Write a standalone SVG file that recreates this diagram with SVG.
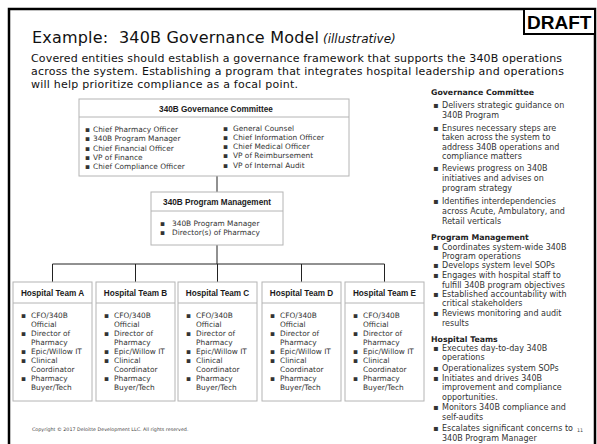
<svg xmlns="http://www.w3.org/2000/svg" width="597" height="444" viewBox="0 0 597 444">
  <style>
    .frame{fill:none;stroke:#000;stroke-width:2.5}
    .box{fill:#fff;stroke:#b4b4b4;stroke-width:1}
    .sep{stroke:#b4b4b4;stroke-width:1}
    .conn{stroke:#222;stroke-width:1;fill:none}
    .title{font-family:"DejaVu Sans",Verdana,sans-serif;font-size:16px;fill:#111}
    .ital{font-family:"DejaVu Sans",Verdana,sans-serif;font-size:12px;font-style:italic;fill:#111}
    .body{font-family:"DejaVu Sans",Verdana,sans-serif;font-size:11px;fill:#111}
    .hd{font-family:"Liberation Sans",Arial,sans-serif;font-weight:bold;font-size:8.2px;fill:#1a1a1a;text-anchor:middle}
    .li{font-family:"DejaVu Sans",Verdana,sans-serif;font-size:7.4px;fill:#333}
    .side{font-family:"DejaVu Sans",Verdana,sans-serif;font-size:8px;fill:#333}
    .sideh{font-family:"DejaVu Sans",Verdana,sans-serif;font-size:7.8px;font-weight:bold;fill:#222}
    .draft{font-family:"Liberation Sans",Arial,sans-serif;font-size:19px;font-weight:bold;fill:#000}
    .copy{font-family:"DejaVu Sans",Verdana,sans-serif;font-size:4.8px;fill:#444}
  </style>

  <!-- slide frame and draft stamp -->
  <path class="frame" d="M9,444 V9 H595 V444"/>
  <rect x="524" y="9" width="71" height="25" fill="#fff" stroke="#000" stroke-width="2"/>
  <text class="draft" x="527" y="29">DRAFT</text>

  <!-- heading and intro -->
  <text class="title" x="32" y="43" textLength="287" lengthAdjust="spacing" xml:space="preserve">Example:  340B Governance Model</text>
  <text class="ital" x="323" y="43">(illustrative)</text>
  <text class="body" x="31" y="62" textLength="531" lengthAdjust="spacing">Covered entities should establish a governance framework that supports the 340B operations</text>
  <text class="body" x="31" y="75" textLength="533" lengthAdjust="spacing">across the system. Establishing a program that integrates hospital leadership and operations</text>
  <text class="body" x="31" y="88" textLength="267" lengthAdjust="spacing">will help prioritize compliance as a focal point.</text>

  <!-- connectors -->
  <g id="connectors" class="conn">
    <line x1="217" y1="176" x2="217" y2="192"/>
    <line x1="217" y1="245" x2="217" y2="264"/>
    <line x1="52.5" y1="264" x2="384.5" y2="264"/>
    <line x1="52.5" y1="264" x2="52.5" y2="282"/>
    <line x1="135.5" y1="264" x2="135.5" y2="282"/>
    <line x1="217.5" y1="264" x2="217.5" y2="282"/>
    <line x1="301.5" y1="264" x2="301.5" y2="282"/>
    <line x1="384.5" y1="264" x2="384.5" y2="282"/>
  </g>

  <!-- governance committee -->
  <g id="governance-committee">
    <rect class="box" x="79" y="99" width="270" height="77"/>
    <line class="sep" x1="79" y1="117" x2="349" y2="117"/>
    <text class="hd" x="216" y="111.5">340B Governance Committee</text>
    <g class="li">
      <text x="85" y="132">▪</text><text x="93" y="132">Chief Pharmacy Officer</text>
      <text x="85" y="141.3">▪</text><text x="93" y="141.3">340B Program Manager</text>
      <text x="85" y="150.6">▪</text><text x="93" y="150.6">Chief Financial Officer</text>
      <text x="85" y="159.9">▪</text><text x="93" y="159.9">VP of Finance</text>
      <text x="85" y="169.2">▪</text><text x="93" y="169.2">Chief Compliance Officer</text>
      <text x="223" y="130.5">▪</text><text x="233" y="130.5">General Counsel</text>
      <text x="223" y="139.8">▪</text><text x="233" y="139.8">Chief Information Officer</text>
      <text x="223" y="149.1">▪</text><text x="233" y="149.1">Chief Medical Officer</text>
      <text x="223" y="158.4">▪</text><text x="233" y="158.4">VP of Reimbursement</text>
      <text x="223" y="167.7">▪</text><text x="233" y="167.7">VP of Internal Audit</text>
    </g>
  </g>

  <!-- program management -->
  <g id="program-management">
    <rect class="box" x="151" y="192" width="132" height="53"/>
    <line class="sep" x1="151" y1="211" x2="283" y2="211"/>
    <text class="hd" x="217" y="205">340B Program Management</text>
    <g class="li">
      <text x="160" y="225.5">▪</text><text x="172" y="225.5">340B Program Manager</text>
      <text x="160" y="234.5">▪</text><text x="172" y="234.5">Director(s) of Pharmacy</text>
    </g>
  </g>

  <!-- hospital teams -->
  <defs>
    <g id="team-list" class="li">
      <text x="8" y="35.5">▪</text><text x="18" y="35.5">CFO/340B</text>
      <text x="18" y="44.5">Official</text>
      <text x="8" y="53.5">▪</text><text x="18" y="53.5">Director of</text>
      <text x="18" y="62.5">Pharmacy</text>
      <text x="8" y="71.5">▪</text><text x="18" y="71.5">Epic/Willow IT</text>
      <text x="8" y="80.5">▪</text><text x="18" y="80.5">Clinical</text>
      <text x="18" y="89.5">Coordinator</text>
      <text x="8" y="98.5">▪</text><text x="18" y="98.5">Pharmacy</text>
      <text x="18" y="107.5">Buyer/Tech</text>
    </g>
  </defs>

  <g id="team-a" transform="translate(13,282)">
    <rect class="box" x="0" y="0" width="79" height="119"/>
    <line class="sep" x1="0" y1="21" x2="79" y2="21"/>
    <text class="hd" x="39.5" y="14">Hospital Team A</text>
    <use href="#team-list"/>
  </g>
  <g id="team-b" transform="translate(96,282)">
    <rect class="box" x="0" y="0" width="79" height="119"/>
    <line class="sep" x1="0" y1="21" x2="79" y2="21"/>
    <text class="hd" x="39.5" y="14">Hospital Team B</text>
    <use href="#team-list"/>
  </g>
  <g id="team-c" transform="translate(178,282)">
    <rect class="box" x="0" y="0" width="79" height="119"/>
    <line class="sep" x1="0" y1="21" x2="79" y2="21"/>
    <text class="hd" x="39.5" y="14">Hospital Team C</text>
    <use href="#team-list"/>
  </g>
  <g id="team-d" transform="translate(262,282)">
    <rect class="box" x="0" y="0" width="79" height="119"/>
    <line class="sep" x1="0" y1="21" x2="79" y2="21"/>
    <text class="hd" x="39.5" y="14">Hospital Team D</text>
    <use href="#team-list"/>
  </g>
  <g id="team-e" transform="translate(345,282)">
    <rect class="box" x="0" y="0" width="79" height="119"/>
    <line class="sep" x1="0" y1="21" x2="79" y2="21"/>
    <text class="hd" x="39.5" y="14">Hospital Team E</text>
    <use href="#team-list"/>
  </g>

  <!-- role descriptions -->
  <g id="roles">
    <text class="sideh" x="431" y="95">Governance Committee</text>
    <g class="side">
      <text x="433" y="108">▪</text><text x="442" y="108">Delivers strategic guidance on</text>
      <text x="442" y="118">340B Program</text>
      <text x="433" y="131">▪</text><text x="442" y="131">Ensures necessary steps are</text>
      <text x="442" y="140">taken across the system to</text>
      <text x="442" y="149.5">address 340B operations and</text>
      <text x="442" y="159">compliance matters</text>
      <text x="433" y="171">▪</text><text x="442" y="171">Reviews progress on 340B</text>
      <text x="442" y="181">initiatives and advises on</text>
      <text x="442" y="191">program strategy</text>
      <text x="433" y="204">▪</text><text x="442" y="204">Identifies interdependencies</text>
      <text x="442" y="214">across Acute, Ambulatory, and</text>
      <text x="442" y="224">Retail verticals</text>
    </g>
    <text class="sideh" x="431" y="240">Program Management</text>
    <g class="side">
      <text x="433" y="250">▪</text><text x="442" y="250">Coordinates system-wide 340B</text>
      <text x="442" y="259">Program operations</text>
      <text x="433" y="268">▪</text><text x="442" y="268">Develops system level SOPs</text>
      <text x="433" y="278">▪</text><text x="442" y="278">Engages with hospital staff to</text>
      <text x="442" y="288">fulfill 340B program objectives</text>
      <text x="433" y="297">▪</text><text x="442" y="297">Established accountability with</text>
      <text x="442" y="306">critical stakeholders</text>
      <text x="433" y="316">▪</text><text x="442" y="316">Reviews monitoring and audit</text>
      <text x="442" y="326">results</text>
    </g>
    <text class="sideh" x="431" y="342">Hospital Teams</text>
    <g class="side">
      <text x="433" y="351">▪</text><text x="442" y="351">Executes day-to-day 340B</text>
      <text x="442" y="360">operations</text>
      <text x="433" y="371">▪</text><text x="442" y="371">Operationalizes system SOPs</text>
      <text x="433" y="381">▪</text><text x="442" y="381">Initiates and drives 340B</text>
      <text x="442" y="390">improvement and compliance</text>
      <text x="442" y="400">opportunities.</text>
      <text x="433" y="410">▪</text><text x="442" y="410">Monitors 340B compliance and</text>
      <text x="442" y="420">self-audits</text>
      <text x="433" y="431">▪</text><text x="442" y="431">Escalates significant concerns to</text>
      <text x="442" y="441">340B Program Manager</text>
    </g>
  </g>

  <!-- footer -->
  <text class="copy" x="32" y="431">Copyright © 2017 Deloitte Development LLC. All rights reserved.</text>
  <text class="copy" x="577" y="432" font-size="5.5">11</text>
</svg>
